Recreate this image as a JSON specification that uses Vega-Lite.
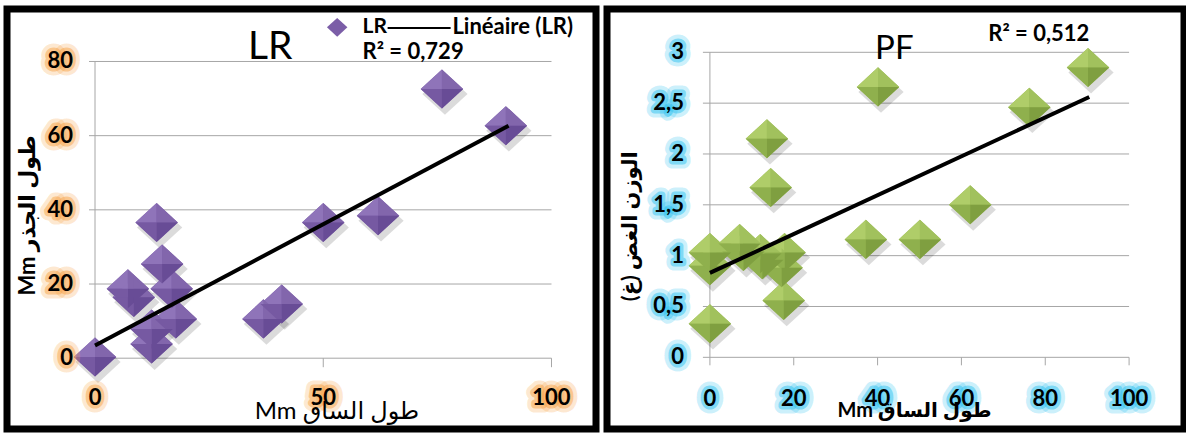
{
  "$schema": "https://vega.github.io/schema/vega-lite/v6.json",
  "background": "white",
  "padding": {"left": 3, "top": 5, "right": 0, "bottom": 0},
  "spacing": 3,
  "config": {
    "view": {"stroke": "black", "strokeWidth": 7},
    "font": "Lato, DejaVu Sans"
  },
  "datasets": {
    "one": [{}],
    "lr": [
      {"x": 0, "y": 0.3}, {"x": 76, "y": 72.6}, {"x": 90, "y": 62.7}, {"x": 13.5, "y": 36.6},
      {"x": 50, "y": 36.6}, {"x": 62, "y": 38.4}, {"x": 14.7, "y": 25.4}, {"x": 7.2, "y": 18.7},
      {"x": 8.5, "y": 16.4}, {"x": 16.8, "y": 18.7}, {"x": 17.7, "y": 10.6}, {"x": 12.4, "y": 7.9},
      {"x": 12.4, "y": 3.8}, {"x": 36.9, "y": 10.6}, {"x": 40.9, "y": 14.6}
    ],
    "lrFit": [{"x": 0, "y": 3.4}, {"x": 90.6, "y": 62.7}],
    "lrY": [{"v": 0, "label": "0"}, {"v": 20, "label": "20"}, {"v": 40, "label": "40"}, {"v": 60, "label": "60"}, {"v": 80, "label": "80"}],
    "lrX": [{"v": 0, "label": "0"}, {"v": 50, "label": "50"}, {"v": 100, "label": "100"}],
    "pf": [
      {"x": 0, "y": 0.33}, {"x": 0, "y": 0.9}, {"x": 0, "y": 1.03}, {"x": 7.1, "y": 1.12},
      {"x": 8.0, "y": 1.04}, {"x": 12, "y": 1.02}, {"x": 12.5, "y": 0.96}, {"x": 13.6, "y": 2.15},
      {"x": 14.5, "y": 1.67}, {"x": 17.8, "y": 1.03}, {"x": 17.1, "y": 0.88}, {"x": 17.6, "y": 0.56},
      {"x": 40.1, "y": 2.66}, {"x": 37.2, "y": 1.16}, {"x": 50.1, "y": 1.16}, {"x": 62.1, "y": 1.5},
      {"x": 76.2, "y": 2.46}, {"x": 90.2, "y": 2.85}
    ],
    "pfFit": [{"x": 0, "y": 0.83}, {"x": 90.5, "y": 2.56}],
    "pfY": [{"v": 0, "label": "0"}, {"v": 0.5, "label": "0,5"}, {"v": 1, "label": "1"}, {"v": 1.5, "label": "1,5"}, {"v": 2, "label": "2"}, {"v": 2.5, "label": "2,5"}, {"v": 3, "label": "3"}],
    "pfX": [{"v": 0, "label": "0"}, {"v": 20, "label": "20"}, {"v": 40, "label": "40"}, {"v": 60, "label": "60"}, {"v": 80, "label": "80"}, {"v": 100, "label": "100"}]
  },
  "hconcat": [
    {
      "width": 589,
      "height": 420,
      "data": {"name": "one"},
      "layer": [
        {
          "data": {"name": "lrY"},
          "mark": {"type": "rule", "color": "#a6a6a6", "strokeWidth": 1, "xOffset": -6},
          "encoding": {
            "x": {"datum": 0, "type": "quantitative", "axis": null, "scale": {"domain": [-19.28, 109.75], "nice": false, "zero": false}},
            "x2": {"datum": 100},
            "y": {"field": "v", "type": "quantitative", "axis": null, "scale": {"domain": [-19.09, 94.15], "nice": false, "zero": false}}
          }
        },
        {
          "mark": {"type": "rule", "color": "#a6a6a6", "strokeWidth": 1},
          "encoding": {
            "x": {"datum": 0, "type": "quantitative"},
            "y": {"datum": 0, "type": "quantitative"},
            "y2": {"datum": 80}
          }
        },
        {
          "data": {"name": "lrX"},
          "mark": {"type": "rule", "color": "#a6a6a6", "strokeWidth": 1, "y2Offset": 9},
          "encoding": {
            "x": {"field": "v", "type": "quantitative"},
            "y": {"datum": 0, "type": "quantitative"},
            "y2": {"datum": 0}
          }
        },
        {
          "data": {"name": "lr"},
          "mark": {"type": "point", "shape": "M0,-0.92L1,0L0,0.92L-1,0Z", "filled": true, "fill": "#000000", "fillOpacity": 0.14, "strokeWidth": 0, "size": 2050, "xOffset": 3, "yOffset": 5},
          "encoding": {"x": {"field": "x", "type": "quantitative"}, "y": {"field": "y", "type": "quantitative"}}
        },
        {
          "data": {"name": "lr"},
          "mark": {"type": "point", "shape": "M0,-0.92L1,0L0,0.92L-1,0Z", "filled": true, "fill": "#7b5ea7", "opacity": 1, "strokeWidth": 0, "size": 1800},
          "encoding": {"x": {"field": "x", "type": "quantitative"}, "y": {"field": "y", "type": "quantitative"}}
        },
        {
          "data": {"name": "lr"},
          "mark": {"type": "point", "shape": "M-1,0L0,-0.92L0,0Z", "filled": true, "fill": "#8f74b9", "opacity": 1, "strokeWidth": 0, "size": 1800},
          "encoding": {"x": {"field": "x", "type": "quantitative"}, "y": {"field": "y", "type": "quantitative"}}
        },
        {
          "data": {"name": "lr"},
          "mark": {"type": "point", "shape": "M0,-0.92L1,0L0,0Z", "filled": true, "fill": "#8266ac", "opacity": 1, "strokeWidth": 0, "size": 1800},
          "encoding": {"x": {"field": "x", "type": "quantitative"}, "y": {"field": "y", "type": "quantitative"}}
        },
        {
          "data": {"name": "lr"},
          "mark": {"type": "point", "shape": "M0,0.92L-1,0L0,0Z", "filled": true, "fill": "#7659a2", "opacity": 1, "strokeWidth": 0, "size": 1800},
          "encoding": {"x": {"field": "x", "type": "quantitative"}, "y": {"field": "y", "type": "quantitative"}}
        },
        {
          "data": {"name": "lr"},
          "mark": {"type": "point", "shape": "M1,0L0,0.92L0,0Z", "filled": true, "fill": "#684c96", "opacity": 1, "strokeWidth": 0, "size": 1800},
          "encoding": {"x": {"field": "x", "type": "quantitative"}, "y": {"field": "y", "type": "quantitative"}}
        },
        {
          "data": {"name": "lrFit"},
          "mark": {"type": "line", "color": "black", "strokeWidth": 4},
          "encoding": {"x": {"field": "x", "type": "quantitative"}, "y": {"field": "y", "type": "quantitative"}}
        },
        {
          "data": {"name": "lrY"},
          "mark": {"type": "text", "align": "right", "baseline": "middle", "dx": -22, "fontSize": 22, "fontWeight": "bold", "fill": "#f7a44a", "fillOpacity": 0.25, "stroke": "#f7a44a", "strokeOpacity": 0.25, "strokeWidth": 15, "strokeJoin": "round"},
          "encoding": {"x": {"datum": 0, "type": "quantitative"}, "y": {"field": "v", "type": "quantitative"}, "text": {"field": "label"}}
        },
        {
          "data": {"name": "lrY"},
          "mark": {"type": "text", "align": "right", "baseline": "middle", "dx": -22, "fontSize": 22, "fontWeight": "bold", "fill": "#f7a44a", "fillOpacity": 0.5, "stroke": "#f7a44a", "strokeOpacity": 0.5, "strokeWidth": 7, "strokeJoin": "round"},
          "encoding": {"x": {"datum": 0, "type": "quantitative"}, "y": {"field": "v", "type": "quantitative"}, "text": {"field": "label"}}
        },
        {
          "data": {"name": "lrY"},
          "mark": {"type": "text", "align": "right", "baseline": "middle", "dx": -22, "fontSize": 22, "fontWeight": "bold", "color": "black"},
          "encoding": {"x": {"datum": 0, "type": "quantitative"}, "y": {"field": "v", "type": "quantitative"}, "text": {"field": "label"}}
        },
        {
          "data": {"name": "lrX"},
          "mark": {"type": "text", "align": "center", "baseline": "middle", "dy": 40, "fontSize": 22, "fontWeight": "bold", "fill": "#f7a44a", "fillOpacity": 0.25, "stroke": "#f7a44a", "strokeOpacity": 0.25, "strokeWidth": 15, "strokeJoin": "round"},
          "encoding": {"x": {"field": "v", "type": "quantitative"}, "y": {"datum": 0, "type": "quantitative"}, "text": {"field": "label"}}
        },
        {
          "data": {"name": "lrX"},
          "mark": {"type": "text", "align": "center", "baseline": "middle", "dy": 40, "fontSize": 22, "fontWeight": "bold", "fill": "#f7a44a", "fillOpacity": 0.5, "stroke": "#f7a44a", "strokeOpacity": 0.5, "strokeWidth": 7, "strokeJoin": "round"},
          "encoding": {"x": {"field": "v", "type": "quantitative"}, "y": {"datum": 0, "type": "quantitative"}, "text": {"field": "label"}}
        },
        {
          "data": {"name": "lrX"},
          "mark": {"type": "text", "align": "center", "baseline": "middle", "dy": 40, "fontSize": 22, "fontWeight": "bold", "color": "black"},
          "encoding": {"x": {"field": "v", "type": "quantitative"}, "y": {"datum": 0, "type": "quantitative"}, "text": {"field": "label"}}
        },
        {
          "mark": {"type": "text", "text": "LR", "align": "center", "baseline": "middle", "fontSize": 39, "color": "black"},
          "encoding": {"x": {"datum": 38.4, "type": "quantitative"}, "y": {"datum": 83.8, "type": "quantitative"}}
        },
        {
          "mark": {"type": "text", "text": "Mm طول الساق", "align": "center", "baseline": "middle", "fontSize": 24, "color": "black"},
          "encoding": {"x": {"datum": 53, "type": "quantitative"}, "y": {"datum": -14.6, "type": "quantitative"}}
        },
        {
          "mark": {"type": "text", "text": "Mm طول الجذر", "align": "center", "baseline": "middle", "angle": 270, "fontSize": 22, "fontWeight": "bold", "color": "black"},
          "encoding": {"x": {"datum": -14.6, "type": "quantitative"}, "y": {"datum": 38.5, "type": "quantitative"}}
        },
        {
          "mark": {"type": "point", "shape": "M0,-0.92L1,0L0,0.92L-1,0Z", "filled": true, "fill": "#7b5ea7", "opacity": 1, "strokeWidth": 0, "size": 420},
          "encoding": {"x": {"datum": 53.05, "type": "quantitative"}, "y": {"datum": 89.2, "type": "quantitative"}}
        },
        {
          "mark": {"type": "text", "text": "LR", "align": "left", "baseline": "middle", "fontSize": 21, "fontWeight": "bold", "color": "black"},
          "encoding": {"x": {"datum": 58.6, "type": "quantitative"}, "y": {"datum": 89.2, "type": "quantitative"}}
        },
        {
          "mark": {"type": "rule", "color": "black", "strokeWidth": 2},
          "encoding": {"x": {"datum": 64.1, "type": "quantitative"}, "x2": {"datum": 77.9}, "y": {"datum": 89.0, "type": "quantitative"}}
        },
        {
          "mark": {"type": "text", "text": "Linéaire (LR)", "align": "left", "baseline": "middle", "fontSize": 22, "fontWeight": "bold", "color": "black"},
          "encoding": {"x": {"datum": 78.3, "type": "quantitative"}, "y": {"datum": 89.2, "type": "quantitative"}}
        },
        {
          "mark": {"type": "text", "text": "R² = 0,729", "align": "left", "baseline": "middle", "fontSize": 22, "fontWeight": "bold", "color": "black"},
          "encoding": {"x": {"datum": 58.6, "type": "quantitative"}, "y": {"datum": 82.5, "type": "quantitative"}}
        }
      ]
    },
    {
      "width": 577,
      "height": 420,
      "data": {"name": "one"},
      "layer": [
        {
          "data": {"name": "pfY"},
          "mark": {"type": "rule", "color": "#a6a6a6", "strokeWidth": 1, "xOffset": -7},
          "encoding": {
            "x": {"datum": 0, "type": "quantitative", "axis": null, "scale": {"domain": [-24.55, 113.1], "nice": false, "zero": false}},
            "x2": {"datum": 100},
            "y": {"field": "v", "type": "quantitative", "axis": null, "scale": {"domain": [-0.705, 3.426], "nice": false, "zero": false}}
          }
        },
        {
          "mark": {"type": "rule", "color": "#a6a6a6", "strokeWidth": 1},
          "encoding": {
            "x": {"datum": 0, "type": "quantitative"},
            "y": {"datum": 0, "type": "quantitative"},
            "y2": {"datum": 3}
          }
        },
        {
          "data": {"name": "pfX"},
          "mark": {"type": "rule", "color": "#a6a6a6", "strokeWidth": 1, "y2Offset": 8},
          "encoding": {
            "x": {"field": "v", "type": "quantitative"},
            "y": {"datum": 0, "type": "quantitative"},
            "y2": {"datum": 0}
          }
        },
        {
          "data": {"name": "pf"},
          "mark": {"type": "point", "shape": "M0,-0.92L1,0L0,0.92L-1,0Z", "filled": true, "fill": "#000000", "fillOpacity": 0.14, "strokeWidth": 0, "size": 2050, "xOffset": 3, "yOffset": 5},
          "encoding": {"x": {"field": "x", "type": "quantitative"}, "y": {"field": "y", "type": "quantitative"}}
        },
        {
          "data": {"name": "pf"},
          "mark": {"type": "point", "shape": "M0,-0.92L1,0L0,0.92L-1,0Z", "filled": true, "fill": "#98b854", "opacity": 1, "strokeWidth": 0, "size": 1800},
          "encoding": {"x": {"field": "x", "type": "quantitative"}, "y": {"field": "y", "type": "quantitative"}}
        },
        {
          "data": {"name": "pf"},
          "mark": {"type": "point", "shape": "M-1,0L0,-0.92L0,0Z", "filled": true, "fill": "#afcd69", "opacity": 1, "strokeWidth": 0, "size": 1800},
          "encoding": {"x": {"field": "x", "type": "quantitative"}, "y": {"field": "y", "type": "quantitative"}}
        },
        {
          "data": {"name": "pf"},
          "mark": {"type": "point", "shape": "M0,-0.92L1,0L0,0Z", "filled": true, "fill": "#a1c15d", "opacity": 1, "strokeWidth": 0, "size": 1800},
          "encoding": {"x": {"field": "x", "type": "quantitative"}, "y": {"field": "y", "type": "quantitative"}}
        },
        {
          "data": {"name": "pf"},
          "mark": {"type": "point", "shape": "M0,0.92L-1,0L0,0Z", "filled": true, "fill": "#8fb04d", "opacity": 1, "strokeWidth": 0, "size": 1800},
          "encoding": {"x": {"field": "x", "type": "quantitative"}, "y": {"field": "y", "type": "quantitative"}}
        },
        {
          "data": {"name": "pf"},
          "mark": {"type": "point", "shape": "M1,0L0,0.92L0,0Z", "filled": true, "fill": "#7f9f40", "opacity": 1, "strokeWidth": 0, "size": 1800},
          "encoding": {"x": {"field": "x", "type": "quantitative"}, "y": {"field": "y", "type": "quantitative"}}
        },
        {
          "data": {"name": "pfFit"},
          "mark": {"type": "line", "color": "black", "strokeWidth": 4},
          "encoding": {"x": {"field": "x", "type": "quantitative"}, "y": {"field": "y", "type": "quantitative"}}
        },
        {
          "data": {"name": "pfY"},
          "mark": {"type": "text", "align": "right", "baseline": "middle", "dx": -26, "fontSize": 22, "fontWeight": "bold", "fill": "#33c3f0", "fillOpacity": 0.25, "stroke": "#33c3f0", "strokeOpacity": 0.25, "strokeWidth": 15, "strokeJoin": "round"},
          "encoding": {"x": {"datum": 0, "type": "quantitative"}, "y": {"field": "v", "type": "quantitative"}, "text": {"field": "label"}}
        },
        {
          "data": {"name": "pfY"},
          "mark": {"type": "text", "align": "right", "baseline": "middle", "dx": -26, "fontSize": 22, "fontWeight": "bold", "fill": "#33c3f0", "fillOpacity": 0.5, "stroke": "#33c3f0", "strokeOpacity": 0.5, "strokeWidth": 7, "strokeJoin": "round"},
          "encoding": {"x": {"datum": 0, "type": "quantitative"}, "y": {"field": "v", "type": "quantitative"}, "text": {"field": "label"}}
        },
        {
          "data": {"name": "pfY"},
          "mark": {"type": "text", "align": "right", "baseline": "middle", "dx": -26, "fontSize": 22, "fontWeight": "bold", "color": "black"},
          "encoding": {"x": {"datum": 0, "type": "quantitative"}, "y": {"field": "v", "type": "quantitative"}, "text": {"field": "label"}}
        },
        {
          "data": {"name": "pfX"},
          "mark": {"type": "text", "align": "center", "baseline": "middle", "dy": 42, "fontSize": 22, "fontWeight": "bold", "fill": "#33c3f0", "fillOpacity": 0.25, "stroke": "#33c3f0", "strokeOpacity": 0.25, "strokeWidth": 15, "strokeJoin": "round"},
          "encoding": {"x": {"field": "v", "type": "quantitative"}, "y": {"datum": 0, "type": "quantitative"}, "text": {"field": "label"}}
        },
        {
          "data": {"name": "pfX"},
          "mark": {"type": "text", "align": "center", "baseline": "middle", "dy": 42, "fontSize": 22, "fontWeight": "bold", "fill": "#33c3f0", "fillOpacity": 0.5, "stroke": "#33c3f0", "strokeOpacity": 0.5, "strokeWidth": 7, "strokeJoin": "round"},
          "encoding": {"x": {"field": "v", "type": "quantitative"}, "y": {"datum": 0, "type": "quantitative"}, "text": {"field": "label"}}
        },
        {
          "data": {"name": "pfX"},
          "mark": {"type": "text", "align": "center", "baseline": "middle", "dy": 42, "fontSize": 22, "fontWeight": "bold", "color": "black"},
          "encoding": {"x": {"field": "v", "type": "quantitative"}, "y": {"datum": 0, "type": "quantitative"}, "text": {"field": "label"}}
        },
        {
          "mark": {"type": "text", "text": "PF", "align": "center", "baseline": "middle", "fontSize": 33, "color": "black"},
          "encoding": {"x": {"datum": 44, "type": "quantitative"}, "y": {"datum": 3.03, "type": "quantitative"}}
        },
        {
          "mark": {"type": "text", "text": "R² = 0,512", "align": "left", "baseline": "middle", "fontSize": 22, "fontWeight": "bold", "color": "black"},
          "encoding": {"x": {"datum": 66.4, "type": "quantitative"}, "y": {"datum": 3.18, "type": "quantitative"}}
        },
        {
          "mark": {"type": "text", "text": "Mm طول الساق", "align": "center", "baseline": "middle", "fontSize": 20, "fontWeight": "bold", "color": "black"},
          "encoding": {"x": {"datum": 48.8, "type": "quantitative"}, "y": {"datum": -0.53, "type": "quantitative"}}
        },
        {
          "mark": {"type": "text", "text": "الوزن الغض (غ)‏", "align": "center", "baseline": "middle", "angle": 270, "fontSize": 21, "fontWeight": "bold", "color": "black"},
          "encoding": {"x": {"datum": -18.9, "type": "quantitative"}, "y": {"datum": 1.29, "type": "quantitative"}}
        }
      ]
    }
  ]
}
